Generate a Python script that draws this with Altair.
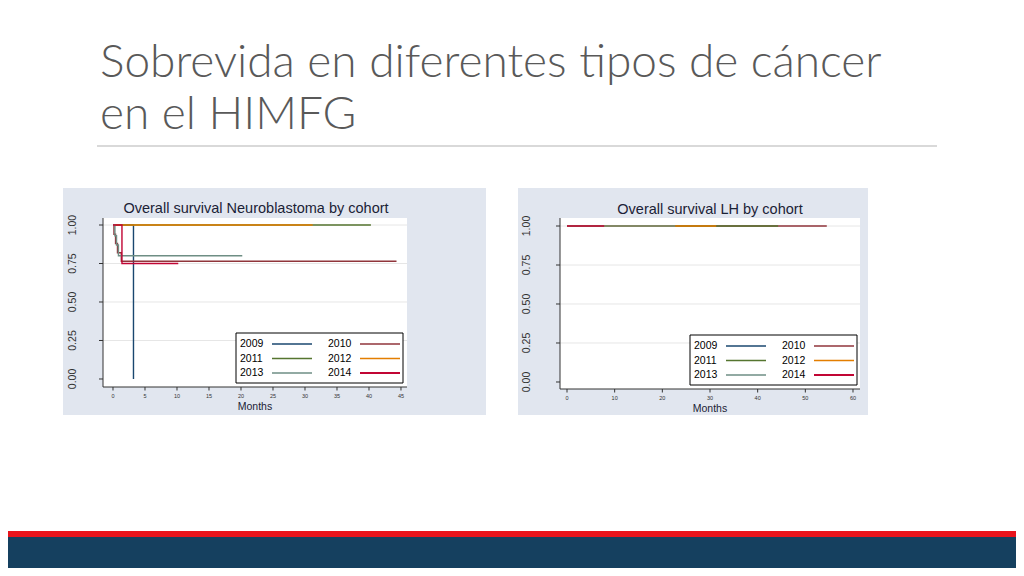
import altair as alt
import pandas as pd

# ---------------- data ----------------
YEARS = ["2009", "2010", "2011", "2012", "2013", "2014"]
PALETTE = ["#1a476f", "#90353b", "#55752f", "#e37e00", "#6e8e84", "#c10534"]
LINE_W = [1.4, 1.4, 1.4, 1.4, 1.4, 2.2]

# Neuroblastoma: Kaplan-Meier steps (months, survival)
NB_2009_T = [0, 3.2]
NB_2009_S = [1.0, 0.0]
NB_2010_T = [0, 0.15, 0.4, 0.7, 1.3, 44.3]
NB_2010_S = [1.0, 0.94, 0.88, 0.82, 0.765, 0.765]
NB_2011_T = [0, 40.3]
NB_2011_S = [1.0, 1.0]
NB_2012_T = [0, 31.2]
NB_2012_S = [1.0, 1.0]
NB_2013_T = [0, 0.3, 0.55, 0.85, 20.2]
NB_2013_S = [1.0, 0.93, 0.87, 0.80, 0.80]
NB_2014_T = [0, 1.4, 10.2]
NB_2014_S = [1.0, 0.75, 0.75]

# Linfoma de Hodgkin (LH): everyone survives
LH_2009_T = [0, 6.0]
LH_2009_S = [1.0, 1.0]
LH_2010_T = [0, 54.5]
LH_2010_S = [1.0, 1.0]
LH_2011_T = [0, 44.3]
LH_2011_S = [1.0, 1.0]
LH_2012_T = [0, 31.3]
LH_2012_S = [1.0, 1.0]
LH_2013_T = [0, 22.7]
LH_2013_S = [1.0, 1.0]
LH_2014_T = [0, 7.8]
LH_2014_S = [1.0, 1.0]

Y_TICKS = [0, 0.25, 0.5, 0.75, 1.0]
GRID_Y = [0.25, 0.5, 0.75, 1.0]
NB_X_TICKS = [0, 5, 10, 15, 20, 25, 30, 35, 40, 45]
LH_X_TICKS = [0, 10, 20, 30, 40, 50, 60]

MAIN_TITLE_1 = "Sobrevida en diferentes tipos de cáncer"
MAIN_TITLE_2 = "en el HIMFG"
NB_TITLE = "Overall survival Neuroblastoma by cohort"
LH_TITLE = "Overall survival LH by cohort"
X_TITLE = "Months"


def km_frame(series):
    rows = []
    for year, ts, ss in series:
        for t, s in zip(ts, ss):
            rows.append({"year": year, "t": t, "s": s})
    return pd.DataFrame(rows)


nb_df = km_frame([
    ("2009", NB_2009_T, NB_2009_S), ("2010", NB_2010_T, NB_2010_S),
    ("2011", NB_2011_T, NB_2011_S), ("2012", NB_2012_T, NB_2012_S),
    ("2013", NB_2013_T, NB_2013_S), ("2014", NB_2014_T, NB_2014_S),
])
lh_df = km_frame([
    ("2009", LH_2009_T, LH_2009_S), ("2010", LH_2010_T, LH_2010_S),
    ("2011", LH_2011_T, LH_2011_S), ("2012", LH_2012_T, LH_2012_S),
    ("2013", LH_2013_T, LH_2013_S), ("2014", LH_2014_T, LH_2014_S),
])
grid_df = pd.DataFrame({"s": GRID_Y})
ytick_df = pd.DataFrame({"v": Y_TICKS})
ONE = pd.DataFrame({"k": [0]})

STATA_FONT = "Liberation Sans"
TEXT_DARK = "#1b2236"
AXIS_COLOR = "#333333"


def panel(df, x_dom, x_rng, y_dom, y_rng, x_ticks, y_lab_pad):
    xs = alt.Scale(domain=x_dom, range=x_rng, nice=False, zero=False)
    ys = alt.Scale(domain=y_dom, range=y_rng, nice=False, zero=False)
    xtick_df = pd.DataFrame({"v": x_ticks})
    x0, x1 = x_dom
    y0, y1 = y_dom

    grid = alt.Chart(grid_df).mark_rule(color="#e6e6e6", strokeWidth=1).encode(
        x=alt.X(datum=x0, scale=xs, axis=None), x2=alt.X2(datum=x1),
        y=alt.Y("s:Q", scale=ys, axis=None),
    )
    lines = alt.Chart(df).mark_line(interpolate="step-after", clip=False).encode(
        x=alt.X("t:Q", scale=xs, axis=None),
        y=alt.Y("s:Q", scale=ys, axis=None),
        color=alt.Color("year:N", scale=alt.Scale(domain=YEARS, range=PALETTE), legend=None),
        strokeWidth=alt.StrokeWidth("year:N", scale=alt.Scale(domain=YEARS, range=LINE_W),
                                    legend=None),
        order=alt.Order("t:Q"),
    )
    # y axis (Stata style: vertical labels)
    y_domain = alt.Chart(ONE).mark_rule(color=AXIS_COLOR, strokeWidth=1).encode(
        x=alt.X(datum=x0, scale=xs, axis=None),
        y=alt.Y(datum=y0, scale=ys, axis=None), y2=alt.Y2(datum=y1))
    y_ticks = alt.Chart(ytick_df).mark_rule(color=AXIS_COLOR, strokeWidth=1, x2Offset=-4).encode(
        x=alt.X(datum=x0, scale=xs, axis=None), x2=alt.X2(datum=x0),
        y=alt.Y("v:Q", scale=ys, axis=None))
    y_labels = alt.Chart(ytick_df).mark_text(
        angle=270, align="center", baseline="bottom", font=STATA_FONT, fontSize=10.5,
        color=AXIS_COLOR, xOffset=-(4 + y_lab_pad)).encode(
        x=alt.X(datum=x0, scale=xs, axis=None),
        y=alt.Y("v:Q", scale=ys, axis=None),
        text=alt.Text("v:Q", format=".2f"))
    # x axis
    x_domain = alt.Chart(ONE).mark_rule(color=AXIS_COLOR, strokeWidth=1).encode(
        x=alt.X(datum=x0, scale=xs, axis=None), x2=alt.X2(datum=x1),
        y=alt.Y(datum=y0, scale=ys, axis=None))
    x_ticks_m = alt.Chart(xtick_df).mark_rule(color=AXIS_COLOR, strokeWidth=1, y2Offset=3.5).encode(
        x=alt.X("v:Q", scale=xs, axis=None),
        y=alt.Y(datum=y0, scale=ys, axis=None), y2=alt.Y2(datum=y0))
    x_labels = alt.Chart(xtick_df).mark_text(
        baseline="top", align="center", font=STATA_FONT, fontSize=5.5, color=AXIS_COLOR,
        yOffset=7).encode(
        x=alt.X("v:Q", scale=xs, axis=None),
        y=alt.Y(datum=y0, scale=ys, axis=None),
        text=alt.Text("v:Q", format="d"))
    x_title = alt.Chart(ONE).mark_text(
        text=X_TITLE, baseline="alphabetic", align="center", font=STATA_FONT, fontSize=10.5,
        color=TEXT_DARK, yOffset=23).encode(
        x=alt.X(datum=(x0 + x1) / 2, scale=xs, axis=None),
        y=alt.Y(datum=y0, scale=ys, axis=None))
    return alt.layer(grid, lines, y_domain, y_ticks, y_labels,
                     x_domain, x_ticks_m, x_labels, x_title)


def box(x0, x1, y0, y1, color, stroke=None):
    kw = {"color": color}
    if stroke:
        kw.update(stroke=stroke, strokeWidth=1)
    return alt.Chart(ONE).mark_rect(**kw).encode(
        x=alt.value(x0), x2=alt.value(x1), y=alt.value(y0), y2=alt.value(y1))


def label(text, x, y, size, color, font, weight="normal", align="left", baseline="alphabetic"):
    return alt.Chart(ONE).mark_text(text=text, font=font, fontSize=size, fontWeight=weight,
                                    color=color, align=align, baseline=baseline).encode(
        x=alt.value(x), y=alt.value(y))


def stata_legend(fx, fy):
    """Stata-style legend box: label followed by its line sample, two columns."""
    parts = [box(fx, fx + 167, fy, fy + 50, "white", stroke="black")]
    for i, (year, col, w) in enumerate(zip(YEARS, PALETTE, LINE_W)):
        c, r = i % 2, i // 2
        lx = fx + 4 + c * 88
        ly = fy + 11 + r * 14.5
        parts.append(label(year, lx, ly, 10.5, "black", STATA_FONT, baseline="middle"))
        parts.append(alt.Chart(ONE).mark_rule(color=col, strokeWidth=w).encode(
            x=alt.value(lx + 32), x2=alt.value(lx + 72), y=alt.value(ly)))
    return parts


decor = [
    box(55, 478, 180, 407, "#e1e6ef"),
    box(95, 399, 210, 379, "white"),
    box(510, 860, 180, 407, "#e1e6ef"),
    box(552, 852, 210, 381, "white"),
    alt.Chart(ONE).mark_rule(color="#d9d9d9", strokeWidth=2).encode(
        x=alt.value(89), x2=alt.value(929), y=alt.value(138)),
    box(0, 1008, 523, 529, "#e8141c"),
    box(0, 1008, 529, 560, "#15405f"),
]

texts = [
    label(MAIN_TITLE_1, 92, 69, 46, "#595959", "Lato", 300),
    label(MAIN_TITLE_2, 92, 121, 46, "#595959", "Lato", 300),
    label(NB_TITLE, 248, 205, 14.5, TEXT_DARK, STATA_FONT, align="center"),
    label(LH_TITLE, 702, 206, 14.5, TEXT_DARK, STATA_FONT, align="center"),
]

nb_panel = panel(nb_df, [-1.5625, 45.94], [95, 399], [-0.052, 1.0455], [379, 210],
                 NB_X_TICKS, 21)
lh_panel = panel(lh_df, [-1.47, 61.47], [552, 852], [-0.0449, 1.0513], [381, 210],
                 LH_X_TICKS, 24)

chart = alt.layer(
    *decor, nb_panel, lh_panel, *stata_legend(228, 325), *stata_legend(682, 327), *texts
).resolve_scale(
    x="independent", y="independent", color="independent", strokeWidth="independent"
).properties(
    width=1008, height=560,
    autosize=alt.AutoSizeParams(type="none"),
    padding=0,
    background="white",
).configure_view(strokeWidth=0)

chart.save("out.html", embed_options={"renderer": "svg", "actions": False})
